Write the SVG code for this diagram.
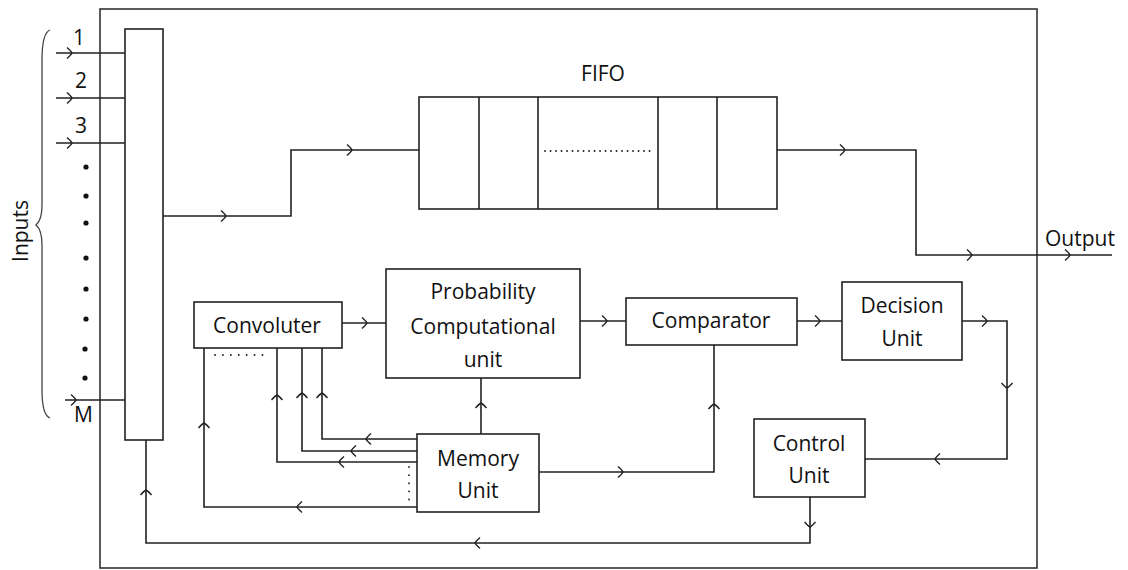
<svg xmlns="http://www.w3.org/2000/svg" xmlns:xlink="http://www.w3.org/1999/xlink" width="1128" height="570" viewBox="0 0 1128 570">
<style>
.ln{fill:none;stroke:#222;stroke-width:1.6}
.box{fill:#fff;stroke:#222;stroke-width:1.6}
.dot{fill:none;stroke:#222;stroke-width:1.8;stroke-linecap:round;stroke-dasharray:0.1 5.4}
.t{font-family:"Open Sans","Liberation Sans",sans-serif;font-size:21px;fill:#111;text-anchor:middle}
.ts{font-family:"Open Sans","Liberation Sans",sans-serif;font-size:21px;fill:#111}
</style>
<defs>
<path id="chev" d="M-5,-5.5 Q-1,-2 0,0 Q-1,2 -5,5.5" fill="none" stroke="#222" stroke-width="1.4"/>
</defs>
<rect x="100" y="9" width="937" height="559" fill="#fff" stroke="#333" stroke-width="1.6"/>

<g id="inputs">
<path d="M50,30 Q42,33 42,60 L42,205 Q42,220 36,225 Q42,230 42,245 L42,390 Q42,415 50,418" fill="none" stroke="#444" stroke-width="1.3"/>
<text class="t" transform="translate(28,231) rotate(-90)">Inputs</text>
<text class="ts" x="73" y="45">1</text>
<text class="ts" x="75" y="88">2</text>
<text class="ts" x="75" y="133">3</text>
<text class="ts" x="74" y="422">M</text>
<g fill="#111">
<circle cx="86" cy="167" r="2.6"/><circle cx="86" cy="196" r="2.6"/><circle cx="86" cy="223" r="2.6"/><circle cx="86" cy="258" r="2.6"/><circle cx="86" cy="289" r="2.6"/><circle cx="86" cy="319" r="2.6"/><circle cx="85" cy="349" r="2.6"/><circle cx="85" cy="378" r="2.6"/>
</g>
</g>

<g id="connectors">
<path class="ln" d="M56,53H125M56,98H125M56,143H125M65,400H125"/>
<use xlink:href="#chev" transform="translate(72,53)"/>
<use xlink:href="#chev" transform="translate(72,98)"/>
<use xlink:href="#chev" transform="translate(72,143)"/>
<use xlink:href="#chev" transform="translate(76,400)"/>
<path class="ln" d="M163,216H291V150H419"/>
<use xlink:href="#chev" transform="translate(226,216)"/>
<use xlink:href="#chev" transform="translate(352,150)"/>
<path class="ln" d="M777,150H916V255H1112"/>
<use xlink:href="#chev" transform="translate(845,150)"/>
<use xlink:href="#chev" transform="translate(972,255)"/>
<use xlink:href="#chev" transform="translate(1070,255)"/>
<path class="ln" d="M342,323H386"/>
<use xlink:href="#chev" transform="translate(367,323)"/>
<path class="ln" d="M580,321H626"/>
<use xlink:href="#chev" transform="translate(607,321)"/>
<path class="ln" d="M797,321H842"/>
<use xlink:href="#chev" transform="translate(820,321)"/>
<path class="ln" d="M962,321H1007V459H865"/>
<use xlink:href="#chev" transform="translate(987,321)"/>
<use xlink:href="#chev" transform="translate(1007,388) rotate(90)"/>
<use xlink:href="#chev" transform="translate(935,459) rotate(180)"/>
<path class="ln" d="M810,497V543H146V440"/>
<use xlink:href="#chev" transform="translate(810,527) rotate(90)"/>
<use xlink:href="#chev" transform="translate(475,543) rotate(180)"/>
<use xlink:href="#chev" transform="translate(146,490) rotate(-90)"/>
<path class="ln" d="M481,434V378"/>
<use xlink:href="#chev" transform="translate(481,403) rotate(-90)"/>
<path class="ln" d="M539,472H714V345"/>
<use xlink:href="#chev" transform="translate(623,472)"/>
<use xlink:href="#chev" transform="translate(714,404) rotate(-90)"/>
<path class="ln" d="M417,439H322V348M417,451H302V348M417,462H277V348M417,507H204V348"/>
<use xlink:href="#chev" transform="translate(366,439) rotate(180)"/>
<use xlink:href="#chev" transform="translate(351,451) rotate(180)"/>
<use xlink:href="#chev" transform="translate(339,462) rotate(180)"/>
<use xlink:href="#chev" transform="translate(297,507) rotate(180)"/>
<use xlink:href="#chev" transform="translate(322,393) rotate(-90)"/>
<use xlink:href="#chev" transform="translate(302,393) rotate(-90)"/>
<use xlink:href="#chev" transform="translate(277,395) rotate(-90)"/>
<use xlink:href="#chev" transform="translate(204,423) rotate(-90)"/>
<path class="dot" d="M215,355H263" style="stroke-dasharray:0.1 7.8"/>
<path class="dot" d="M409,467V500" style="stroke-dasharray:0.1 8"/>
</g>

<g id="mux"><rect class="box" x="125" y="29" width="38" height="411"/></g>

<g id="fifo">
<rect class="box" x="419" y="97" width="358" height="112"/>
<path class="ln" d="M479,97V209M538,97V209M658,97V209M717,97V209"/>
<path class="dot" d="M545,151H655"/>
<text class="t" x="603" y="81">FIFO</text>
</g>

<g id="output"><text class="ts" x="1045" y="246">Output</text></g>

<g id="convoluter">
<rect class="box" x="194" y="302" width="148" height="46"/>
<text class="t" x="267" y="333">Convoluter</text>
</g>

<g id="pcu">
<rect class="box" x="386" y="269" width="194" height="109"/>
<text class="t" x="483" y="299">Probability</text>
<text class="t" x="483" y="334">Computational</text>
<text class="t" x="483" y="367">unit</text>
</g>

<g id="comparator">
<rect class="box" x="626" y="298" width="171" height="47"/>
<text class="t" x="711" y="328">Comparator</text>
</g>

<g id="decision">
<rect class="box" x="842" y="282" width="120" height="78"/>
<text class="t" x="902" y="313">Decision</text>
<text class="t" x="902" y="346">Unit</text>
</g>

<g id="memory">
<rect class="box" x="417" y="434" width="122" height="78"/>
<text class="t" x="478" y="466">Memory</text>
<text class="t" x="478" y="498">Unit</text>
</g>

<g id="control">
<rect class="box" x="754" y="419" width="111" height="78"/>
<text class="t" x="809" y="451">Control</text>
<text class="t" x="809" y="483">Unit</text>
</g>
</svg>
